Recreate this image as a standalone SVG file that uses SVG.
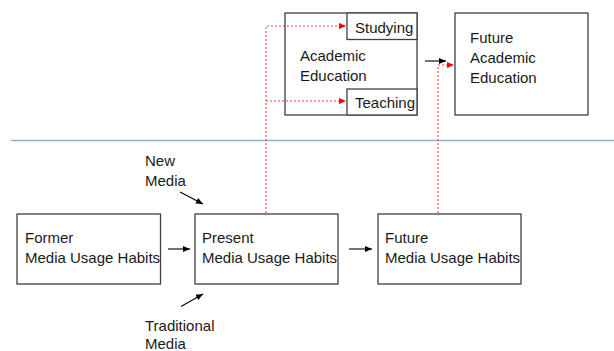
<svg xmlns="http://www.w3.org/2000/svg" width="614" height="351" viewBox="0 0 614 351">
<style>
.box{fill:#fff;stroke:#404040;stroke-width:1.3}
.t{font-family:"Liberation Sans",Arial,sans-serif;font-size:15px;fill:#1a1a1a}
.blk{stroke:#000;stroke-width:1.1;fill:none}
.red{stroke:#ff4040;stroke-width:1.1;fill:none;stroke-dasharray:2,2}
</style>
<defs>
<marker id="ab" markerWidth="8" markerHeight="8" refX="7" refY="4" orient="auto" markerUnits="userSpaceOnUse"><path d="M0,1 L7,4 L0,7 Z" fill="#000"/></marker>
<marker id="ar" markerWidth="8" markerHeight="8" refX="7" refY="4" orient="auto" markerUnits="userSpaceOnUse"><path d="M0,1 L7,4 L0,7 Z" fill="#ff0000"/></marker>
</defs>
<line x1="11" y1="140.5" x2="614" y2="140.5" stroke="#8fb0dd" stroke-width="1.3"/>
<g id="academic">
<rect class="box" x="285" y="13" width="132" height="102"/>
<text class="t" x="300" y="61">Academic</text>
<text class="t" x="300" y="81">Education</text>
</g>
<g id="studying">
<rect class="box" x="347" y="13" width="70" height="26.5"/>
<text class="t" x="355" y="33">Studying</text>
</g>
<g id="teaching">
<rect class="box" x="347" y="89" width="70" height="26"/>
<text class="t" x="355" y="108">Teaching</text>
</g>
<g id="future-academic">
<rect class="box" x="455" y="13" width="133" height="102"/>
<text class="t" x="470" y="43">Future</text>
<text class="t" x="470" y="63">Academic</text>
<text class="t" x="470" y="83">Education</text>
</g>
<g id="former">
<rect class="box" x="17" y="214" width="143.5" height="70"/>
<text class="t" x="25" y="243">Former</text>
<text class="t" x="25" y="263">Media Usage Habits</text>
</g>
<g id="present">
<rect class="box" x="195" y="214" width="143" height="70"/>
<text class="t" x="202" y="243">Present</text>
<text class="t" x="202" y="263">Media Usage Habits</text>
</g>
<g id="future">
<rect class="box" x="378" y="214" width="143" height="70"/>
<text class="t" x="385" y="243">Future</text>
<text class="t" x="385" y="263">Media Usage Habits</text>
</g>
<g id="new-media">
<text class="t" x="145" y="166">New</text>
<text class="t" x="145" y="186">Media</text>
</g>
<g id="traditional-media">
<text class="t" x="145" y="331">Traditional</text>
<text class="t" x="145" y="349">Media</text>
</g>
<g id="connectors">
<line class="blk" x1="168" y1="249" x2="190" y2="249" marker-end="url(#ab)"/>
<line class="blk" x1="349" y1="249" x2="372" y2="249" marker-end="url(#ab)"/>
<line class="blk" x1="180" y1="192" x2="203" y2="204" marker-end="url(#ab)"/>
<line class="blk" x1="181" y1="306.5" x2="203" y2="294" marker-end="url(#ab)"/>
<line class="blk" x1="425" y1="61" x2="446" y2="61" marker-end="url(#ab)"/>
<polyline class="red" points="266,213 266,26 346,26" marker-end="url(#ar)"/>
<polyline class="red" points="266,101 346,101" marker-end="url(#ar)"/>
<polyline class="red" points="438,213 438,65 454,65" marker-end="url(#ar)"/>
</g>
</svg>
